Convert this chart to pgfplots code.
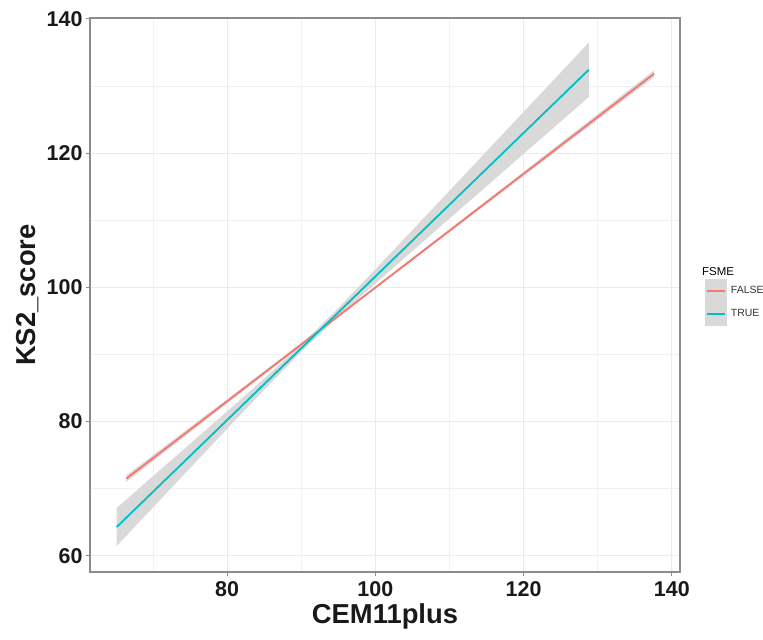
\documentclass[border=0pt]{standalone}
\usepackage{fontspec}
\setmainfont{Liberation Sans}
\usepackage{pgfplots}
\pgfplotsset{compat=1.18}
\definecolor{falsecol}{HTML}{F8766D}
\definecolor{truecol}{HTML}{00BFC4}
\definecolor{bandgray}{HTML}{D9D9D9}
\definecolor{gridgray}{HTML}{EBEBEB}
\definecolor{framegray}{HTML}{8C8C8C}
\begin{document}
\begin{tikzpicture}
\useasboundingbox (-90bp,-68bp) rectangle (673bp,572bp);
\begin{axis}[
  scale only axis, width=590bp, height=554bp,
  xmin=61.5, xmax=141.1, ymin=57.6, ymax=140.1,
  xtick={80,100,120,140}, ytick={60,80,100,120,140},
  minor xtick={70,90,110,130}, minor ytick={70,90,110,130},
  grid=both,
  major grid style={gridgray, line width=0.9bp},
  minor grid style={gridgray!70, line width=0.6bp},
  axis line style={framegray, line width=1.1bp},
  clip mode=individual,
  tick pos=left,
  tick align=outside, major tick length=4bp, minor tick length=0pt,
  tick style={framegray, line width=0.9bp},
  ticklabel style={font=\bfseries\fontsize{21.5}{21.5}\selectfont, text=black!90},
  /pgf/number format/assume math mode=true,
  xticklabel style={yshift=-2bp},
  yticklabel style={xshift=0bp},
  xlabel={CEM11plus}, ylabel={KS2\_score},
  label style={font=\bfseries\fontsize{27.5}{27.5}\selectfont, text=black!90},
  xlabel style={at={(axis description cs:0.5,-0.0921)}, anchor=base},
  ylabel style={at={(axis description cs:-0.0932,0.5)}, anchor=base},
  legend style={at={(axis description cs:1.0373,0.4865)}, anchor=west, draw=none, fill=none,
    font=\fontsize{10.5}{10.5}\selectfont, text=black!80,
    nodes={inner xsep=0pt, inner ysep=0pt}, column sep=4bp, row sep=0pt},
  legend cell align=left,
  legend image code/.code={\fill[bandgray] (0bp,-10.75bp) rectangle (20bp,10.75bp); \draw[#1] (1bp,0bp) -- (19bp,0bp);},
]
% TRUE confidence band
\addplot[fill=bandgray, draw=none, forget plot] coordinates {
(65.1,67.14) (70,71.87) (75,76.69) (80,81.53) (85,86.40) (90,91.44) (95,96.91)
(100,102.68) (105,108.51) (110,114.38) (115,120.24) (120,126.12) (125,131.98) (128.8,136.46)
(128.8,128.34) (125,124.68) (120,119.87) (115,115.04) (110,110.23) (105,105.39) (100,100.54)
(95,95.62) (90,90.40) (85,84.74) (80,78.93) (75,73.07) (70,67.22) (65.1,61.46)
} -- cycle;
% FALSE confidence band
\addplot[fill=bandgray, draw=none, forget plot] coordinates {
(66.4,72.0) (80,83.32) (100,100.11) (120,117.20) (137.6,132.3)
(137.6,131.3) (120,116.60) (100,99.81) (80,82.72) (66.4,71.0)
} -- cycle;
\addplot[falsecol, line width=1.8bp, forget plot] coordinates {(66.4,71.5) (137.6,131.8)};
\addplot[truecol, line width=1.8bp, forget plot] coordinates {
(65.1,64.3) (70,69.54) (75,74.88) (80,80.23) (85,85.57) (90,90.92) (95,96.26)
(100,101.61) (105,106.95) (110,112.30) (115,117.64) (120,122.99) (125,128.33) (128.8,132.4)};
\addlegendimage{falsecol, line width=1.8bp}
\addlegendentry{FALSE}
\addlegendimage{truecol, line width=1.8bp}
\addlegendentry{TRUE}
\node[anchor=west, inner sep=0pt, font=\fontsize{11.5}{11.5}\selectfont, text=black] at (axis description cs:1.0373,0.5415) {FSME};
\end{axis}
\end{tikzpicture}
\end{document}
